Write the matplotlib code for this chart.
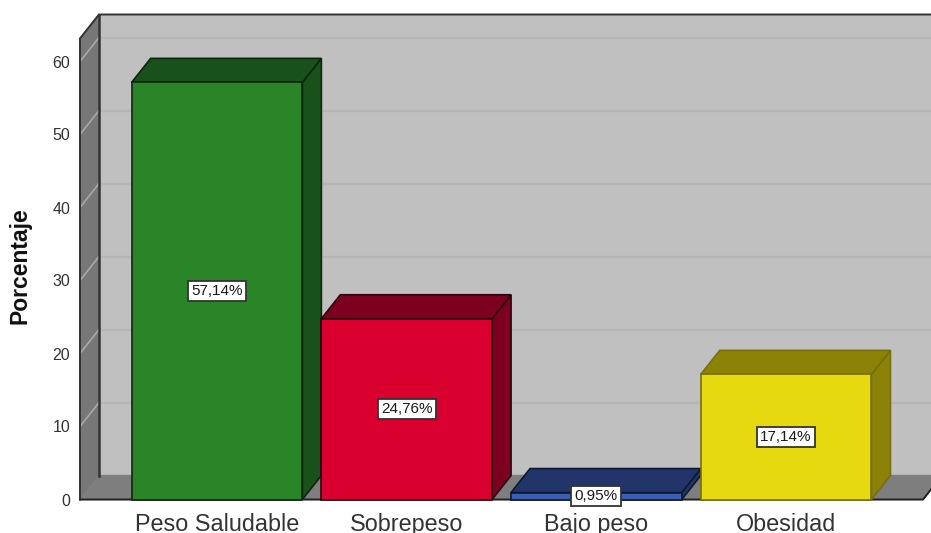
import matplotlib
matplotlib.use('Agg')
import matplotlib.pyplot as plt

plt.rcParams['font.family'] = ['Liberation Sans', 'DejaVu Sans']

# Data
categories = ['Peso Saludable', 'Sobrepeso', 'Bajo peso', 'Obesidad']
values = [57.14, 24.76, 0.95, 17.14]
value_labels = ['57,14%', '24,76%', '0,95%', '17,14%']
yticks = [0, 10, 20, 30, 40, 50, 60]

# Colors for front faces, shaded faces and outlines
front_colors = ['#2a8529', '#d90030', '#3b5fb5', '#e6d90f']
shade_colors = ['#18521a', '#7e0020', '#22356b', '#8c8207']
edge_colors = ['#10240f', '#2a0510', '#10182f', '#77700f']

W, H = 931, 533
fig = plt.figure(figsize=(W / 100, H / 100), dpi=100)

# Axes box is the front plane of the 3D frame
left_px, right_px, bottom_px, top_px = 80, 923, 499.5, 38.5
ax = fig.add_axes([left_px / W, 1 - bottom_px / H, (right_px - left_px) / W, (bottom_px - top_px) / H])

# one category = 189.7 px, one percent = 7.3 px
ax.set_xlim((left_px - 217) / 189.7, (right_px - 217) / 189.7)
ax.set_ylim(0, (bottom_px - top_px) / 7.3)
x0, x1 = ax.get_xlim()
y0, y1 = ax.get_ylim()

# Depth of the 3D effect in data units
dx = 19 / 189.7
dy = 24 / 7.3
bar_width = 0.9

# Walls and floor
ax.fill([x0 + dx, x1 + dx, x1 + dx, x0 + dx], [y0 + dy, y0 + dy, y1 + dy, y1 + dy], color='#c0c0c0', clip_on=False, zorder=1)
ax.fill([x0, x0 + dx, x0 + dx, x0], [y0, y0 + dy, y1 + dy, y1], color='#777777', clip_on=False, zorder=1)
ax.fill([x0, x1, x1 + dx, x0 + dx], [y0, y0, y0 + dy, y0 + dy], color='#7e7e7e', clip_on=False, zorder=1)

# Grid lines on back wall and left wall
for t in yticks[1:]:
    ax.plot([x0 + dx, x1 + dx], [t + dy, t + dy], color='#b6b6b6', lw=1.6, clip_on=False, zorder=2)
    ax.plot([x0, x0 + dx], [t, t + dy], color='#a8a8a8', lw=1.2, clip_on=False, zorder=2)

# Frame lines
ax.plot([x0, x0, x0 + dx, x1 + dx], [y0, y1, y1 + dy, y1 + dy], color='#333333', lw=1.4, clip_on=False, zorder=3)
ax.plot([x0 + dx, x0 + dx], [y0 + dy, y1 + dy], color='#333333', lw=1.8, clip_on=False, zorder=3)
ax.plot([x0, x1, x1 + dx], [y0, y0, y0 + dy], color='#222222', lw=1.4, clip_on=False, zorder=3)

# Bars, left to right so each front face covers the previous side face
for i, v in enumerate(values):
    l = i - bar_width / 2
    r = i + bar_width / 2
    z = 4 + i
    ax.fill([r, r + dx, r + dx, r], [0, dy, v + dy, v], facecolor=shade_colors[i], edgecolor=edge_colors[i], lw=1.2, clip_on=False, zorder=z)
    ax.fill([l, r, r + dx, l + dx], [v, v, v + dy, v + dy], facecolor=shade_colors[i], edgecolor=edge_colors[i], lw=1.2, clip_on=False, zorder=z)
    ax.bar(i, v, width=bar_width, color=front_colors[i], edgecolor=edge_colors[i], lw=1.2, clip_on=False, zorder=z)

# Value labels in the middle of each bar
for i, v in enumerate(values):
    ax.text(i, v / 2, value_labels[i], ha='center', va='center', fontsize=11, color='#1a1a1a', zorder=10,
            bbox=dict(boxstyle='square,pad=0.22', facecolor='white', edgecolor='#333333', lw=1.3))

ax.set_xticks(range(len(categories)))
ax.set_xticklabels(categories, fontsize=16.8, color='#333333')
ax.set_yticks(yticks)
ax.set_yticklabels([str(t) for t in yticks], fontsize=11.5, color='#333333')
ax.tick_params(axis='both', length=0)
ax.tick_params(axis='y', pad=7)
ax.tick_params(axis='x', pad=10)
ax.set_ylabel('Porcentaje', fontsize=16.5, fontweight='bold', color='#111111')
ax.yaxis.set_label_coords((32 - left_px) / (right_px - left_px), (bottom_px - 266) / (bottom_px - top_px))

for s in ax.spines.values():
    s.set_visible(False)
ax.patch.set_visible(False)

fig.savefig('out.png', dpi=100)
